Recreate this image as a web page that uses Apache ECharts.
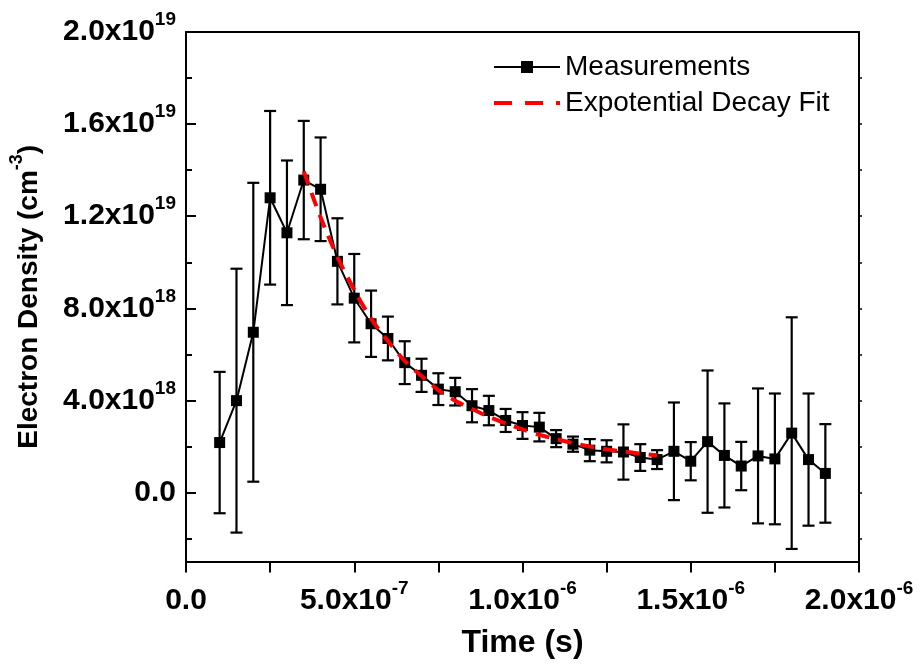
<!DOCTYPE html>
<html><head><meta charset="utf-8">
<script src="https://cdn.jsdelivr.net/npm/echarts@6/dist/echarts.min.js"></script>
<style>html,body{margin:0;padding:0;background:#fff}#c{width:920px;height:664px}</style>
</head><body><div id="c"></div>
<script>
// Time (s)
const times = [1.0e-7,1.5e-7,2.0e-7,2.5e-7,3.0e-7,3.5e-7,4.0e-7,4.5e-7,5.0e-7,5.5e-7,6.0e-7,6.5e-7,7.0e-7,7.5e-7,8.0e-7,8.5e-7,9.0e-7,9.5e-7,1.0e-6,1.05e-6,1.1e-6,1.15e-6,1.2e-6,1.25e-6,1.3e-6,1.35e-6,1.4e-6,1.45e-6,1.5e-6,1.55e-6,1.6e-6,1.65e-6,1.7e-6,1.75e-6,1.8e-6,1.85e-6,1.9e-6];
// Electron density (cm^-3)
const density = [2.17e18,3.99e18,6.96e18,1.28e19,1.128e19,1.357e19,1.317e19,1.004e19,8.44e18,7.33e18,6.69e18,5.64e18,5.09e18,4.49e18,4.38e18,3.77e18,3.56e18,3.13e18,2.91e18,2.84e18,2.34e18,2.10e18,1.84e18,1.79e18,1.76e18,1.52e18,1.43e18,1.79e18,1.36e18,2.21e18,1.61e18,1.15e18,1.59e18,1.46e18,2.58e18,1.43e18,0.83e18];
// Error bar half-widths
const errors = [3.07e18,5.73e18,6.49e18,3.77e18,3.14e18,2.57e18,2.25e18,1.87e18,1.92e18,1.44e18,0.95e18,0.93e18,0.72e18,0.69e18,0.60e18,0.72e18,0.64e18,0.50e18,0.58e18,0.62e18,0.37e18,0.33e18,0.48e18,0.48e18,1.20e18,0.58e18,0.41e18,2.12e18,0.83e18,3.09e18,2.26e18,1.05e18,2.93e18,2.84e18,5.03e18,2.87e18,2.14e18];
// Exponential decay fit curve
const fitTimes = [3.5e-7,4.0e-7,4.5e-7,5.0e-7,5.5e-7,6.0e-7,6.5e-7,7.0e-7,7.5e-7,8.0e-7,8.5e-7,9.0e-7,9.5e-7,1.0e-6,1.05e-6,1.1e-6,1.15e-6,1.2e-6,1.25e-6,1.3e-6,1.35e-6,1.4e-6];
const fitValues = [1.395e19,1.195e19,1.023e19,8.80e18,7.55e18,6.58e18,5.72e18,5.06e18,4.45e18,3.99e18,3.63e18,3.29e18,3.00e18,2.74e18,2.51e18,2.32e18,2.15e18,2.00e18,1.88e18,1.78e18,1.69e18,1.62e18];
// Ticks
const xMajorTicks = [0,5e-7,1e-6,1.5e-6,2e-6];
const xAllTicks = [0,2.5e-7,5e-7,7.5e-7,1e-6,1.25e-6,1.5e-6,1.75e-6,2e-6];
const yMajorTicks = [0,4e18,8e18,1.2e19,1.6e19,2e19];
const yMinorTicks = [-2e18,2e18,6e18,1e19,1.4e19,1.8e19];
const yRightTicks = [-2e18,0,2e18,4e18,6e18,8e18,1e19,1.2e19,1.4e19,1.6e19,1.8e19];

const FONT = '"Liberation Sans", Arial, sans-serif';
function sci(v){
  if (Math.abs(v) < 1e-30) return '{m|0.0}';
  const e = Math.floor(Math.log10(Math.abs(v)) + 1e-9);
  const m = v / Math.pow(10, e);
  return '{m|' + m.toFixed(1) + 'x10}{s|' + e + '}';
}
const rich = {
  m:{fontSize:30,fontWeight:'bold',fontFamily:FONT,color:'#000',lineHeight:42},
  s:{fontSize:19,fontWeight:'bold',fontFamily:FONT,color:'#000',lineHeight:18,padding:[0,0,24,0]}
};
const nameRich = {
  m:{fontSize:28,fontWeight:'bold',fontFamily:FONT,color:'#000',lineHeight:42},
  s:{fontSize:18,fontWeight:'bold',fontFamily:FONT,color:'#000',lineHeight:18,padding:[0,0,24,0]}
};

const measData = times.map((t,i)=>[t, density[i]]);
const errData = times.map((t,i)=>[t, density[i]-errors[i], density[i]+errors[i]]);
const fitData = fitTimes.map((t,i)=>[t, fitValues[i]]);

const axisLine = {show:true,onZero:false,lineStyle:{color:'#000',width:2}};

const chart = echarts.init(document.getElementById('c'));
chart.setOption({
  animation:false,
  backgroundColor:'#fff',
  grid:{left:186,right:61,top:32,bottom:98,containLabel:false},
  legend:{
    orient:'vertical', left:487, top:48, itemWidth:66, itemHeight:15, itemGap:8,
    textStyle:{fontSize:28,fontFamily:FONT,color:'#000'},
    data:['Measurements',{name:'Expotential Decay Fit',itemStyle:{opacity:0},lineStyle:{type:[18,13],width:4,color:'#ff0000'}}]
  },
  xAxis:[{
    type:'value', min:0, max:2e-6, position:'bottom',
    axisLine:axisLine,
    axisTick:{show:true,inside:false,length:11,lineStyle:{color:'#000',width:2},customValues:xAllTicks},
    axisLabel:{customValues:xMajorTicks,formatter:sci,rich:rich,margin:18},
    splitLine:{show:false},
    name:'Time (s)', nameLocation:'middle', nameGap:54,
    nameTextStyle:{fontSize:32,fontWeight:'bold',fontFamily:FONT,color:'#000'}
  },{
    type:'value', min:0, max:2e-6, position:'top',
    axisLine:axisLine,
    axisTick:{show:false}, axisLabel:{show:false}, splitLine:{show:false}
  }],
  yAxis:[{
    type:'value', min:-3e18, max:2e19, position:'left',
    axisLine:axisLine,
    axisTick:{show:true,inside:true,length:10,lineStyle:{color:'#000',width:2},customValues:yMajorTicks},
    axisLabel:{customValues:yMajorTicks,formatter:sci,rich:rich,margin:10},
    splitLine:{show:false},
    name:'{m|Electron Density (cm}{s|-3}{m|)}', nameLocation:'middle', nameGap:136,
    nameTextStyle:{rich:nameRich}
  },{
    type:'value', min:-3e18, max:2e19, position:'left',
    axisLine:{show:false,onZero:false},
    axisTick:{show:true,inside:true,length:6,lineStyle:{color:'#000',width:2},customValues:yMinorTicks},
    axisLabel:{show:false}, splitLine:{show:false}
  },{
    type:'value', min:-3e18, max:2e19, position:'right',
    axisLine:axisLine,
    axisTick:{show:true,inside:false,length:3,lineStyle:{color:'#000',width:1.5},customValues:yRightTicks},
    axisLabel:{show:false}, splitLine:{show:false}
  }],
  series:[{
    type:'custom', name:'errors', xAxisIndex:0, yAxisIndex:0, silent:true, z:2,
    data:errData,
    renderItem:function(params, api){
      const lo = api.coord([api.value(0), api.value(1)]);
      const hi = api.coord([api.value(0), api.value(2)]);
      const hw = 6;
      const st = {stroke:'#000', lineWidth:2.2};
      return {type:'group', children:[
        {type:'line', shape:{x1:lo[0],y1:lo[1],x2:hi[0],y2:hi[1]}, style:st},
        {type:'line', shape:{x1:lo[0]-hw,y1:lo[1],x2:lo[0]+hw,y2:lo[1]}, style:st},
        {type:'line', shape:{x1:hi[0]-hw,y1:hi[1],x2:hi[0]+hw,y2:hi[1]}, style:st}
      ]};
    }
  },{
    type:'line', name:'Measurements', data:measData, z:3,
    symbol:'rect', symbolSize:11, showSymbol:true,
    itemStyle:{color:'#000'}, lineStyle:{color:'#000',width:2}
  },{
    type:'line', name:'Expotential Decay Fit', data:fitData, z:4,
    smooth:0.3, symbol:'none',
    itemStyle:{color:'#ff0000'}, lineStyle:{color:'#ff0000',width:4,type:[14,9]}
  }]
});
</script>
</body></html>
